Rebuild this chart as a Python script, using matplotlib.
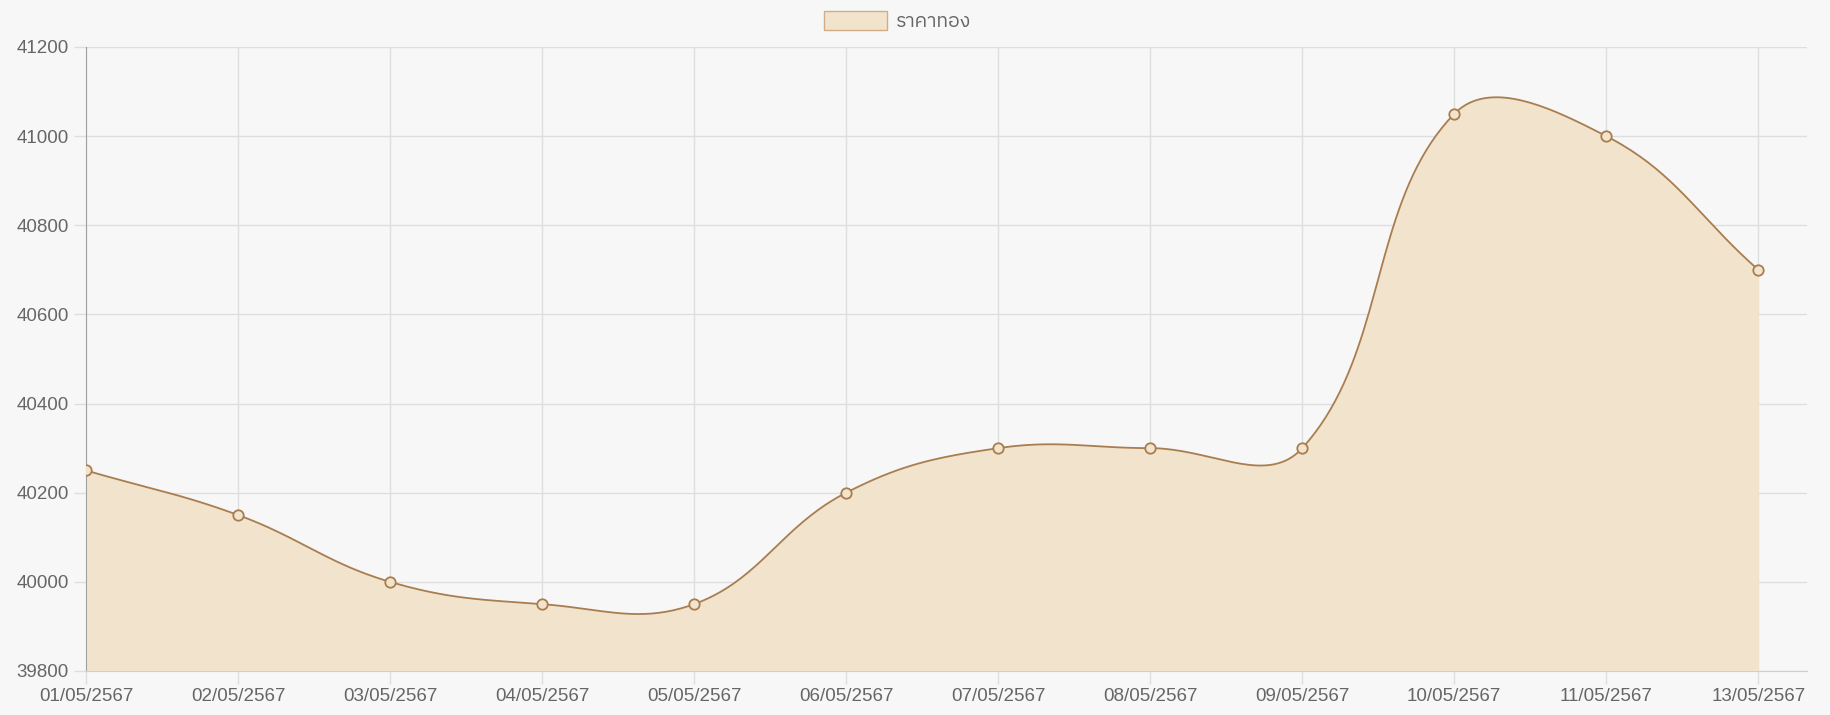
import numpy as np
import matplotlib
matplotlib.use("Agg")
import matplotlib.pyplot as plt
from matplotlib import font_manager
from matplotlib.patches import Patch

dates = ["01/05/2567", "02/05/2567", "03/05/2567", "04/05/2567", "05/05/2567",
         "06/05/2567", "07/05/2567", "08/05/2567", "09/05/2567", "10/05/2567",
         "11/05/2567", "13/05/2567"]
prices = [40250, 40150, 40000, 39950, 39950, 40200, 40300, 40300, 40300,
          41050, 41000, 40700]
series_name = "ราคาทอง"
yticks = [39800, 40000, 40200, 40400, 40600, 40800, 41000, 41200]

# pick a font that has Thai glyphs if one is around
thai_fonts = [f.name for f in font_manager.fontManager.ttflist if "Thai" in f.name]
families = ["Liberation Sans"] + thai_fonts[:1] + ["DejaVu Sans"]
plt.rcParams["font.family"] = families

line_col = "#a87d4f"
fill_col = "#f2e4cc"
text_col = "#666666"
grid_col = "#dedede"

fig = plt.figure(figsize=(18.3, 7.15), dpi=100, facecolor="#f7f7f7")
ax = fig.add_axes([86 / 1830, 1 - 671 / 715, (1807 - 86) / 1830, (671 - 47) / 715])
ax.set_facecolor("#f7f7f7")
x = np.arange(len(prices))
ax.set_xlim(0, len(prices) - 1 + 0.32)
ax.set_ylim(39800, 41200)


def bezier_path(xs, ys, t=0.4):
    # chart.js style spline, computed in pixel space
    pts = ax.transData.transform(np.column_stack([xs, ys]))
    n = len(pts)
    cps = []
    for i in range(n):
        prev = pts[max(i - 1, 0)]
        cur = pts[i]
        nxt = pts[min(i + 1, n - 1)]
        d01 = np.hypot(*(cur - prev))
        d12 = np.hypot(*(nxt - cur))
        tot = d01 + d12
        s01 = d01 / tot if tot else 0
        s12 = d12 / tot if tot else 0
        fa, fb = t * s01, t * s12
        cps.append((cur - fa * (nxt - prev), cur + fb * (nxt - prev)))
    out = []
    tt = np.linspace(0, 1, 40)[:, None]
    for i in range(n - 1):
        p0, p3 = pts[i], pts[i + 1]
        p1, p2 = cps[i][1], cps[i + 1][0]
        seg = ((1 - tt) ** 3) * p0 + 3 * ((1 - tt) ** 2) * tt * p1 + 3 * (1 - tt) * tt ** 2 * p2 + tt ** 3 * p3
        out.append(seg if i == 0 else seg[1:])
    out = np.vstack(out)
    return ax.transData.inverted().transform(out)


curve = bezier_path(x, prices)
ax.fill_between(curve[:, 0], curve[:, 1], 39800, color=fill_col, lw=0, zorder=2)
ax.plot(curve[:, 0], curve[:, 1], color=line_col, lw=1.3, zorder=3)
ax.plot(x, prices, "o", ms=7.5, mfc=fill_col, mec=line_col, mew=1.3, zorder=4)

ax.set_xticks(x)
ax.set_xticklabels(dates)
ax.set_yticks(yticks)
ax.grid(True, color=grid_col, lw=1, zorder=0)
ax.tick_params(colors=grid_col, labelcolor=text_col, labelsize=13.5, length=9, width=1)
ax.tick_params(axis="x", pad=3)
for side in ["top", "right"]:
    ax.spines[side].set_visible(False)
ax.spines["left"].set_color("#a0a0a0")
ax.spines["bottom"].set_color("#cfcfcf")

handle = Patch(facecolor=fill_col, edgecolor="#d0ad86", lw=1)
fig.legend([handle], [series_name], loc="upper left", bbox_to_anchor=(0.443, 1.003),
           frameon=False, fontsize=14, labelcolor=text_col, handlelength=3.2,
           handleheight=1.1, handletextpad=0.5, borderaxespad=0.3)

fig.savefig("out.png", dpi=100, facecolor=fig.get_facecolor())
